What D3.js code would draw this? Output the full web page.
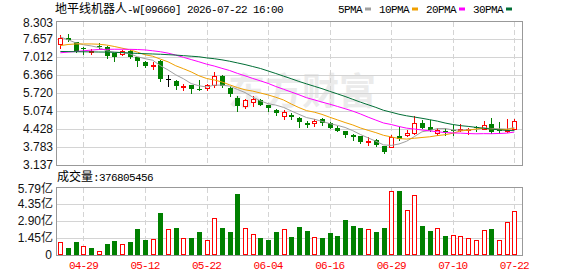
<!DOCTYPE html>
<html>
<head>
<meta charset="utf-8">
<script src="https://cdn.jsdelivr.net/npm/d3@7"></script>
<style>
	body { margin: 0; background: #fff; }
	svg { display: block; }
</style>
</head>
<body>
<script>
/**
 * Data (prices in HKD, volume in 亿 shares)
 */
const stockName = "地平线机器人";
const stockTail = "-W[09660] 2026-07-22 16:00";

const dates = [
	"04-24", "04-27", "04-28", "04-29", "04-30", "05-04", "05-05", "05-06", "05-07", "05-08",
	"05-11", "05-12", "05-13", "05-14", "05-15", "05-18", "05-19", "05-20", "05-21", "05-22",
	"05-26", "05-27", "05-28", "05-29", "06-01", "06-02", "06-03", "06-04", "06-05", "06-08",
	"06-09", "06-10", "06-11", "06-12", "06-15", "06-16", "06-17", "06-18", "06-22", "06-23",
	"06-24", "06-25", "06-26", "06-29", "06-30", "07-02", "07-03", "07-06", "07-07", "07-08",
	"07-09", "07-10", "07-13", "07-14", "07-15", "07-16", "07-17", "07-20", "07-21", "07-22"
];

const opens = [
	7.48, 7.70, 7.544, 7.352, 7.20, 7.41, 7.387, 7.152, 7.117, 7.234,
	6.996, 6.845, 6.71, 6.86, 6.24, 6.166, 5.965, 6.00, 5.87, 5.916,
	6.012, 6.344, 5.905, 5.524, 5.25, 5.39, 5.47, 5.275, 5.115, 4.908,
	4.937, 4.837, 4.651, 4.634, 4.794, 4.659, 4.455, 4.349, 4.206, 4.17,
	3.982, 4.028, 3.814, 3.796, 4.17, 4.217, 4.295, 4.659, 4.491, 4.295,
	4.359, 4.41, 4.395, 4.43, 4.50, 4.43, 4.62, 4.40, 4.348, 4.437
];

const highs = [
	7.815, 7.84, 7.55, 7.377, 7.295, 7.53, 7.40, 7.16, 7.252, 7.28,
	7.00, 6.86, 6.83, 6.903, 6.36, 6.18, 6.048, 6.02, 6.20, 6.05,
	6.46, 6.36, 5.92, 5.606, 5.52, 5.60, 5.49, 5.286, 5.143, 5.107,
	5.015, 4.847, 4.716, 4.787, 4.82, 4.67, 4.534, 4.36, 4.242, 4.188,
	4.124, 4.053, 3.825, 4.196, 4.502, 4.40, 4.883, 4.758, 4.74, 4.473,
	4.48, 4.587, 4.598, 4.47, 4.52, 4.705, 4.84, 4.67, 4.77, 4.794
];

const lows = [
	7.34, 7.58, 7.20, 7.117, 7.13, 7.33, 6.985, 6.853, 7.07, 6.985,
	6.70, 6.67, 6.58, 6.165, 5.98, 5.87, 5.82, 5.727, 5.82, 5.82,
	5.92, 5.92, 5.60, 5.07, 5.19, 5.24, 5.29, 5.08, 4.92, 4.776,
	4.787, 4.502, 4.491, 4.553, 4.562, 4.474, 4.359, 4.124, 4.028, 3.91,
	3.86, 3.814, 3.565, 3.78, 4.05, 4.16, 4.26, 4.474, 4.37, 4.206,
	4.206, 4.22, 4.348, 4.242, 4.348, 4.43, 4.277, 4.27, 4.32, 4.43
];

const closes = [
	7.68, 7.63, 7.234, 7.281, 7.22, 7.39, 7.038, 6.995, 7.224, 7.003,
	6.853, 6.68, 6.72, 6.237, 6.24, 5.977, 5.98, 5.856, 5.85, 6.012,
	6.319, 5.97, 5.685, 5.257, 5.453, 5.50, 5.30, 5.168, 5.008, 5.043,
	4.873, 4.687, 4.58, 4.716, 4.651, 4.48, 4.366, 4.206, 4.135, 3.967,
	4.01, 3.868, 3.618, 4.146, 4.064, 4.295, 4.659, 4.48, 4.384, 4.40,
	4.313, 4.40, 4.438, 4.445, 4.455, 4.587, 4.313, 4.38, 4.384, 4.73
];

const volumes = [
	1.08, 0.62, 1.10, 0.76, 0.62, 0.31, 0.93, 1.19, 0.93, 1.10,
	2.23, 1.27, 1.36, 3.56, 2.20, 2.32, 1.44, 1.47, 1.95, 1.27,
	3.14, 2.32, 1.95, 5.17, 2.29, 1.78, 1.44, 1.27, 1.95, 2.20,
	1.55, 2.40, 2.03, 1.52, 1.47, 1.89, 1.64, 2.97, 2.46, 2.32,
	2.20, 1.95, 2.32, 5.43, 5.43, 3.81, 5.09, 2.46, 2.03, 2.29,
	1.61, 1.67, 1.61, 1.44, 1.27, 2.12, 2.20, 1.27, 2.80, 3.76805456
];

const ma5 = [
	7.73, 7.63, 7.52, 7.45, 7.409, 7.351, 7.233, 7.185, 7.173, 7.13,
	7.023, 6.951, 6.896, 6.699, 6.546, 6.371, 6.231, 6.058, 5.981, 5.935,
	6.003, 6.001, 5.967, 5.849, 5.737, 5.573, 5.439, 5.336, 5.286, 5.204,
	5.078, 4.956, 4.838, 4.78, 4.701, 4.623, 4.559, 4.484, 4.368, 4.231,
	4.11, 3.99, 3.86, 3.84, 3.89, 3.99, 4.156, 4.329, 4.376, 4.444,
	4.447, 4.395, 4.387, 4.399, 4.41, 4.465, 4.448, 4.436, 4.424, 4.479
];

const ma10 = [
	7.42, 7.46, 7.48, 7.48, 7.48, 7.47, 7.44, 7.39, 7.33, 7.27,
	7.187, 7.092, 7.04, 6.936, 6.838, 6.697, 6.591, 6.477, 6.34, 6.241,
	6.187, 6.116, 6.013, 5.915, 5.836, 5.788, 5.72, 5.651, 5.567, 5.47,
	5.326, 5.197, 5.087, 5.033, 4.953, 4.851, 4.757, 4.661, 4.574, 4.466,
	4.38, 4.298, 4.202, 4.145, 4.086, 4.068, 4.097, 4.124, 4.149, 4.192,
	4.223, 4.276, 4.358, 4.388, 4.427, 4.456, 4.422, 4.412, 4.412, 4.445
];

const ma20 = [
	7.163, 7.188, 7.21, 7.234, 7.259, 7.28, 7.287, 7.29, 7.29, 7.287,
	7.28, 7.265, 7.235, 7.2, 7.15, 7.08, 7.0, 6.92, 6.84, 6.755,
	6.687, 6.604, 6.527, 6.425, 6.337, 6.242, 6.156, 6.064, 5.953, 5.855,
	5.756, 5.657, 5.55, 5.474, 5.394, 5.319, 5.239, 5.156, 5.07, 4.968,
	4.853, 4.748, 4.644, 4.589, 4.519, 4.459, 4.427, 4.393, 4.361, 4.329,
	4.301, 4.287, 4.28, 4.266, 4.256, 4.262, 4.259, 4.268, 4.28, 4.318
];

const ma30 = [
	7.21, 7.205, 7.20, 7.198, 7.195, 7.19, 7.188, 7.18, 7.17, 7.155,
	7.14, 7.13, 7.12, 7.11, 7.095, 7.08, 7.06, 7.04, 7.02, 6.98,
	6.95, 6.91, 6.86, 6.80, 6.74, 6.67, 6.60, 6.51, 6.42, 6.327,
	6.233, 6.135, 6.047, 5.961, 5.876, 5.779, 5.689, 5.596, 5.494, 5.392,
	5.298, 5.204, 5.1, 5.031, 4.958, 4.902, 4.858, 4.812, 4.763, 4.71,
	4.643, 4.59, 4.549, 4.522, 4.489, 4.458, 4.425, 4.399, 4.378, 4.368
];

const priceTicks = ["3.137", "3.783", "4.428", "5.074", "5.720", "6.366", "7.012", "7.657", "8.303"];
const volumeTicks = ["0", "1.45亿", "2.90亿", "4.35亿", "5.79亿"];
const dateTicks = ["04-29", "05-12", "05-22", "06-04", "06-16", "06-29", "07-10", "07-22"];

const maSeries = [
	{ name: "5PMA", color: "#a0a0a0", values: ma5 },
	{ name: "10PMA", color: "#f0a000", values: ma10 },
	{ name: "20PMA", color: "#ff00ff", values: ma20 },
	{ name: "30PMA", color: "#006e35", values: ma30 }
];

/**
 * Layout
 */
let width = 578;
let height = 276;
let left = 56.5;
let right = 522.5;
let priceTop = 21;
let priceBottom = 165;
let volTop = 186.7;
let volBottom = 255;
let upColor = "#ff0000";
let downColor = "#008000";
let gridColor = "#d4d4d4";
let frameColor = "#999";
let monoFont = "'Liberation Mono', 'DejaVu Sans Mono', monospace";
let cjkFont = "'Noto Sans CJK SC', sans-serif";

const rows = dates.map(function(d, i) {
	return { date: d, open: opens[i], high: highs[i], low: lows[i], close: closes[i], volume: volumes[i],
		volUp: i === 0 ? closes[i] >= opens[i] : closes[i] >= closes[i - 1] };
});

const svg = d3.select("body").append("svg")
	.attr("width", width)
	.attr("height", height)
	.style("font-family", "'Liberation Sans', Arial, " + cjkFont);

// Scales
const x = d3.scaleBand().domain(dates).range([56.5, 518.2]);
const cx = function(d) { return Math.round(x(d) + x.bandwidth() / 2); };
const y = d3.scaleLinear().domain([3.137, 8.303]).range([priceBottom, priceTop]);
const yVol = d3.scaleLinear().domain([0, 5.79]).range([volBottom, volTop]);
const px = function(v) { return Math.round(v) + 0.5; };

// Watermark
svg.append("text")
	.attr("x", 228)
	.attr("y", 105)
	.attr("font-family", cjkFont)
	.attr("font-size", 37)
	.attr("font-weight", "bold")
	.attr("fill", "#ebebeb")
	.text("东方财富");

/**
 * Grid and frames
 */
function drawPanel(yScale, tickValues, top, bottom) {
	let g = svg.append("g").attr("shape-rendering", "crispEdges");

	g.selectAll(".hgrid")
		.data(tickValues)
		.join("line")
		.attr("x1", left).attr("x2", right)
		.attr("y1", function(d) { return px(yScale(d)); })
		.attr("y2", function(d) { return px(yScale(d)); })
		.attr("stroke", gridColor);

	g.selectAll(".vgrid")
		.data(dateTicks)
		.join("line")
		.attr("x1", function(d) { return cx(d) + 0.5; })
		.attr("x2", function(d) { return cx(d) + 0.5; })
		.attr("y1", px(top)).attr("y2", px(bottom))
		.attr("stroke", gridColor)
		.attr("stroke-dasharray", "5,3");

	g.append("rect")
		.attr("x", left).attr("y", px(top))
		.attr("width", right - left).attr("height", px(bottom) - px(top))
		.attr("fill", "none")
		.attr("stroke", frameColor);
}

drawPanel(y, priceTicks.map(Number), priceTop, priceBottom);
drawPanel(yVol, volumeTicks.map(parseFloat), volTop, volBottom);

/**
 * Axes
 */
const priceAxis = svg.append("g")
	.attr("transform", "translate(57,0)")
	.call(d3.axisLeft(y).tickValues(priceTicks.map(Number))
		.tickFormat(function(d, i) { return priceTicks[i]; })
		.tickSize(0).tickPadding(4));

const volAxis = svg.append("g")
	.attr("transform", "translate(57,0)")
	.call(d3.axisLeft(yVol).tickValues(volumeTicks.map(parseFloat))
		.tickFormat(function(d, i) { return volumeTicks[i]; })
		.tickSize(0).tickPadding(4));

[priceAxis, volAxis].forEach(function(a) {
	a.select(".domain").remove();
	a.selectAll("text")
		.attr("font-family", "'Liberation Sans', Arial, " + cjkFont)
		.attr("font-size", 12)
		.attr("fill", "#111");
	// top label sits a little lower than its grid line
	a.selectAll(".tick:last-of-type text").attr("y", 2);
});
volAxis.selectAll(".tick:first-of-type text").attr("x", -5);

const dateAxis = svg.append("g")
	.attr("transform", "translate(0," + volBottom + ")")
	.call(d3.axisBottom(x).tickValues(dateTicks).tickSize(0).tickPadding(6));

dateAxis.select(".domain").remove();
dateAxis.selectAll("text")
	.attr("font-family", monoFont)
	.attr("font-size", 11)
	.attr("letter-spacing", "-0.8px")
	.attr("fill", upColor);

/**
 * Volume bars
 */
const bars = svg.append("g").attr("shape-rendering", "crispEdges")
	.selectAll("rect")
	.data(rows)
	.join("rect")
	.attr("x", function(d) { return d.volUp ? cx(d.date) - 1.5 : cx(d.date) - 2; })
	.attr("width", function(d) { return d.volUp ? 4 : 5; })
	.attr("y", function(d) { return d.volUp ? px(yVol(d.volume)) : Math.round(yVol(d.volume)); })
	.attr("height", function(d) {
		let top = Math.round(yVol(d.volume));
		return d.volUp ? Math.max(volBottom - top - 1, 1) : volBottom - top;
	})
	.attr("fill", function(d) { return d.volUp ? "#fff" : downColor; })
	.attr("stroke", function(d) { return d.volUp ? upColor : "none"; });

/**
 * Candles
 */
const candles = svg.append("g").attr("shape-rendering", "crispEdges")
	.selectAll("g")
	.data(rows)
	.join("g");

const candleColor = function(d) {
	if (d.close > d.open) return upColor;
	if (d.close < d.open) return downColor;
	return "#000";
};

candles.append("line")
	.attr("x1", function(d) { return cx(d.date) + 0.5; })
	.attr("x2", function(d) { return cx(d.date) + 0.5; })
	.attr("y1", function(d) { return Math.round(y(d.high)); })
	.attr("y2", function(d) { return Math.round(y(d.low)) + 1; })
	.attr("stroke", candleColor);

candles.append("rect")
	.attr("x", function(d) { return d.close > d.open ? cx(d.date) - 1.5 : cx(d.date) - 2; })
	.attr("width", function(d) { return d.close > d.open ? 4 : 5; })
	.attr("y", function(d) {
		let top = Math.round(y(Math.max(d.open, d.close)));
		return d.close > d.open ? top + 0.5 : top;
	})
	.attr("height", function(d) {
		let top = Math.round(y(Math.max(d.open, d.close)));
		let bottom = Math.round(y(Math.min(d.open, d.close)));
		return d.close > d.open ? Math.max(bottom - top, 1) : Math.max(bottom - top, 1);
	})
	.attr("fill", function(d) { return d.close > d.open ? "#fff" : candleColor(d); })
	.attr("stroke", function(d) { return d.close > d.open ? upColor : "none"; });

/**
 * Moving averages
 */
const line = d3.line()
	.x(function(d, i) { return x(dates[i]) + x.bandwidth() / 2; })
	.y(function(d) { return y(d); });

svg.append("g")
	.selectAll("path")
	.data(maSeries)
	.join("path")
	.attr("d", function(d) { return line(d.values); })
	.attr("fill", "none")
	.attr("stroke", function(d) { return d.color; })
	.attr("stroke-width", 1);

/**
 * Title, legend, volume header
 */
const title = svg.append("text").attr("x", 55).attr("y", 13).attr("font-size", 12);
title.append("tspan").attr("font-family", cjkFont).text(stockName);
title.append("tspan").attr("font-family", monoFont).attr("font-size", 11)
	.attr("letter-spacing", "-0.6px").text(stockTail);

let legendX = 338;
maSeries.forEach(function(s) {
	let w = s.name.length * 6;
	svg.append("text")
		.attr("x", legendX).attr("y", 12.5)
		.attr("font-family", monoFont)
		.attr("font-size", 11)
		.attr("letter-spacing", "-0.6px")
		.attr("fill", "#000")
		.text(s.name);
	svg.append("rect")
		.attr("x", legendX + w + 3).attr("y", 7.5)
		.attr("width", 6).attr("height", 3)
		.attr("fill", s.color);
	legendX += w + 3 + 6 + 8;
});

const volHead = svg.append("text").attr("x", 57).attr("y", 181).attr("font-size", 12);
volHead.append("tspan").attr("font-family", cjkFont).text("成交量");
volHead.append("tspan").attr("font-family", monoFont).attr("font-size", 11)
	.attr("letter-spacing", "-0.6px")
	.text(":" + Math.round(volumes[volumes.length - 1] * 1e8));
</script>
</body>
</html>
